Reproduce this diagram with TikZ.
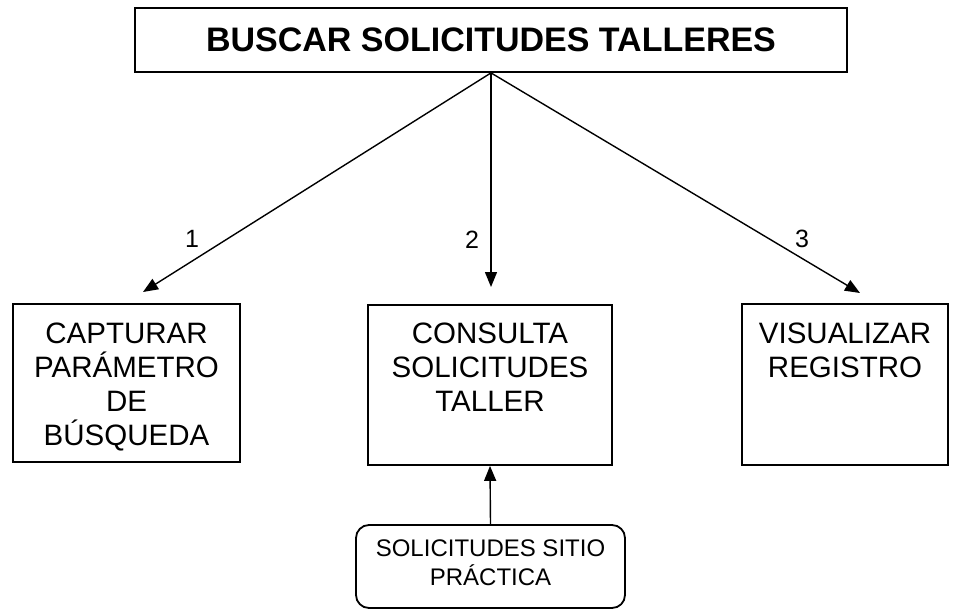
\documentclass[tikz,border=0pt]{standalone}
\usepackage{fontspec}
\setmainfont{Liberation Sans}
\usetikzlibrary{positioning, arrows.meta}

\begin{document}
\begin{tikzpicture}[x=1pt, y=-1pt,
    box/.style={rectangle, draw=black, line width=1.8pt, inner sep=0pt},
    boxtext/.style={anchor=north, align=center, inner sep=0pt,
      font=\fontsize{29.5}{34}\selectfont},
    num/.style={font=\fontsize{25}{28}\selectfont},
    arr/.style={-{Triangle[length=15pt, width=12pt]}, line width=1.4pt}]
    \useasboundingbox (0,0) rectangle (956,610);
    % boxes
    \node[box, minimum width=712pt, minimum height=64pt,
      font=\bfseries\fontsize{34}{38}\selectfont] (main) at (491,40)
      {BUSCAR SOLICITUDES TALLERES};
    \node[box, minimum width=227pt, minimum height=158pt] (cap) at (126.5,383) {};
    \node[box, minimum width=244pt, minimum height=160pt] (cons) at (490,385) {};
    \node[box, minimum width=206pt, minimum height=161pt] (vis) at (845,384.5) {};
    \node[box, rounded corners=13pt, minimum width=269pt, minimum height=83pt] (sol) at (490.5,566.5) {};
    % texts
    \node[boxtext] (captxt) at (126.5,323) {CAPTURAR\\PARÁMETRO\\DE\\BÚSQUEDA};
    \node[boxtext] (constxt) at (490,323) {CONSULTA\\SOLICITUDES\\TALLER};
    \node[boxtext] (vistxt) at (845,323) {VISUALIZAR\\REGISTRO};
    \node[boxtext, font=\fontsize{24}{28.5}\selectfont] (soltxt) at (490.5,540)
      {SOLICITUDES SITIO\\PRÁCTICA};
    % arrow ends
    \coordinate (e1) at (143,292);
    \coordinate (e2) at (491,287);
    \coordinate (e3) at (860,293);
    \draw[arr] (main.south) -- (e1);
    \draw[arr] (main.south) -- (e2);
    \draw[arr] (main.south) -- (e3);
    \draw[arr] (sol.north) -- (cons.south);
    % labels
    \node[num] (n1) at (192,239) {1};
    \node[num] (n2) at (472,240) {2};
    \node[num] (n3) at (802,239) {3};
\end{tikzpicture}
\end{document}
